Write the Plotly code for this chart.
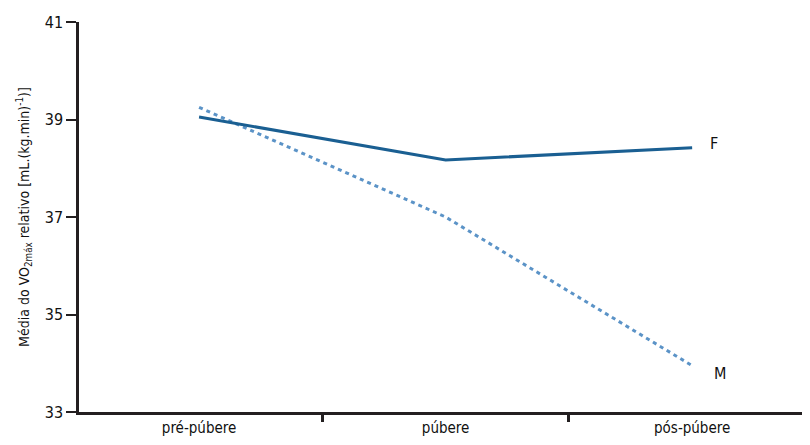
import plotly.graph_objects as go

categories = ["pré-púbere", "púbere", "pós-púbere"]
feminino = [39.05, 38.17, 38.42]
masculino = [39.25, 37.0, 33.95]
y_ticks = [33, 35, 37, 39, 41]

FONT = "DejaVu Sans Condensed, Liberation Sans Narrow, sans-serif"
AX = "#231f20"

fig = go.Figure()
fig.add_trace(go.Scatter(x=categories, y=masculino, mode="lines", name="M",
                         line=dict(color="#5b93c7", width=3, dash="4px,4px")))
fig.add_trace(go.Scatter(x=categories, y=feminino, mode="lines", name="F",
                         line=dict(color="#1a5f92", width=3)))

fig.add_annotation(x=2, y=feminino[-1], text="F", showarrow=False, xanchor="left",
                   xshift=16, yshift=4, font=dict(family=FONT, size=16, color="#111"))
fig.add_annotation(x=2, y=masculino[-1], text="M", showarrow=False, xanchor="left",
                   xshift=20, yshift=-8, font=dict(family=FONT, size=16, color="#111"))

# page body has an 8px margin; compensate so the plot sits where the reference does
fig.update_layout(
    width=802, height=437,
    margin=dict(l=71, r=0, t=14, b=33),
    plot_bgcolor="white", paper_bgcolor="white",
    showlegend=False,
    font=dict(family=FONT, color="#111"),
)
fig.update_xaxes(
    type="category", range=[-0.487, 2.478], automargin=False,
    showgrid=False, zeroline=False,
    showline=True, linecolor=AX, linewidth=2.5,
    ticks="outside", tickson="boundaries", ticklen=7, tickwidth=2.5, tickcolor=AX,
    tickfont=dict(family=FONT, size=15, color="#111"),
)
fig.update_yaxes(
    range=[33, 41], tickvals=y_ticks, automargin=False,
    showgrid=False, zeroline=False,
    showline=True, linecolor=AX, linewidth=2.5,
    ticks="outside", ticklen=10, tickwidth=1.5, tickcolor=AX,
    tickfont=dict(family=FONT, size=16, color="#111"),
    title=dict(text="Média do VO<sub>2máx</sub> relativo [mL.(kg.min)<sup>-1</sup>)]",
               font=dict(family=FONT, size=14, color="#111"), standoff=12),
)

fig.write_html("out.html")
